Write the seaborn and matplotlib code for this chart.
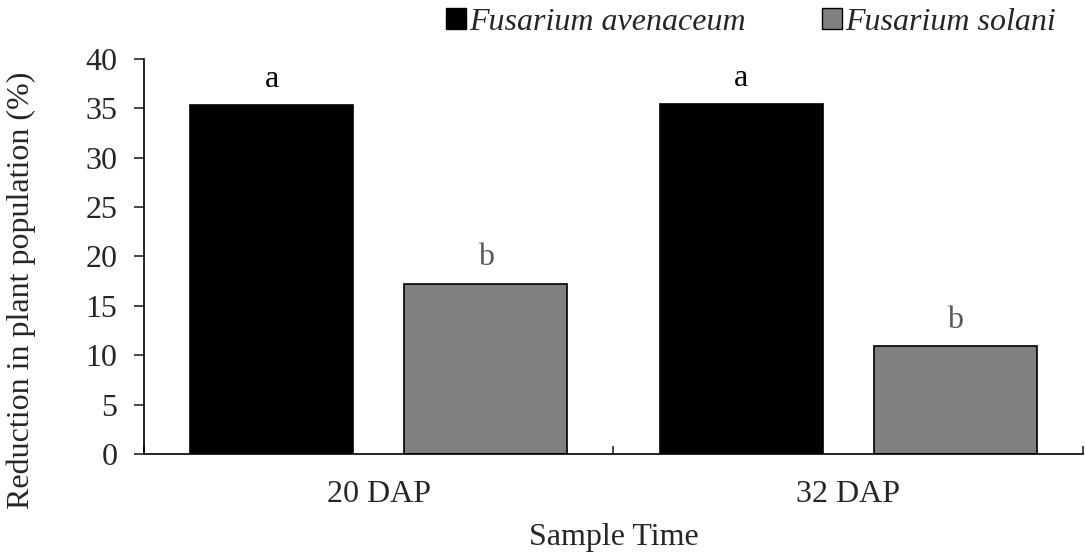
import pandas as pd
import matplotlib
matplotlib.use("Agg")
import matplotlib.pyplot as plt
import seaborn as sns

# Data
sample_times = ["20 DAP", "32 DAP"]
species = ["Fusarium avenaceum", "Fusarium solani"]
avenaceum_vals = [35.3, 35.4]
solani_vals = [17.2, 10.9]
avenaceum_letters = ["a", "a"]
solani_letters = ["b", "b"]

colors = {"Fusarium avenaceum": "#000000", "Fusarium solani": "#808080"}
letter_colors = {"Fusarium avenaceum": "#000000", "Fusarium solani": "#595959"}

df = pd.DataFrame({
    "Sample Time": sample_times * 2,
    "Species": [species[0]] * 2 + [species[1]] * 2,
    "Reduction": avenaceum_vals + solani_vals,
    "Letter": avenaceum_letters + solani_letters,
})

sns.set_style("white")
plt.rcParams["font.family"] = ["Liberation Serif", "DejaVu Serif"]

fig = plt.figure(figsize=(10.86, 5.56), dpi=100)
ax = fig.add_axes([0.1326, 0.1835, 0.9972 - 0.1326, 0.894 - 0.1835])

sns.barplot(
    data=df, x="Sample Time", y="Reduction", hue="Species",
    hue_order=species, order=sample_times, palette=colors,
    width=0.912, gap=0.24, edgecolor="black", linewidth=1.2,
    errorbar=None, ax=ax, legend=False,
)

# significance letters above bars
for cont, sp in zip(ax.containers, species):
    letters = df[df["Species"] == sp]["Letter"].tolist()
    ax.bar_label(cont, labels=letters, padding=8.5, fontsize=23,
                 color=letter_colors[sp])

ax.set_xlim(-0.5, 1.5)
ax.set_ylim(0, 40)
ax.set_yticks(range(0, 41, 5))
ax.tick_params(axis="y", direction="out", length=7, width=1.2, left=True,
               labelsize=23, pad=12)
ax.tick_params(axis="x", which="major", length=0, labelsize=23, pad=19)
ax.set_xticks([-0.5, 0.5, 1.5], minor=True)
ax.tick_params(axis="x", which="minor", direction="in", length=6, width=1.2,
               bottom=True)

sns.despine(ax=ax)
for s in ["left", "bottom"]:
    ax.spines[s].set_linewidth(1.2)
    ax.spines[s].set_color("black")

ax.set_xlabel("Sample Time", fontsize=23, labelpad=10)
ax.set_ylabel("Reduction in plant population (%)", fontsize=23)
ax.yaxis.set_label_coords(-0.115, 0.415)

handles = [plt.Rectangle((0, 0), 1, 1, facecolor=colors[s], edgecolor="black",
                         linewidth=1) for s in species]
fig.legend(handles, species, loc="center left",
           bbox_to_anchor=(446 / 1086, 1 - 22 / 556),
           ncol=2, frameon=False, prop={"style": "italic", "size": 23},
           handlelength=0.62, handleheight=0.62, handletextpad=0.1,
           columnspacing=2.4, borderpad=0, borderaxespad=0)

fig.savefig("out.png", dpi=100)
